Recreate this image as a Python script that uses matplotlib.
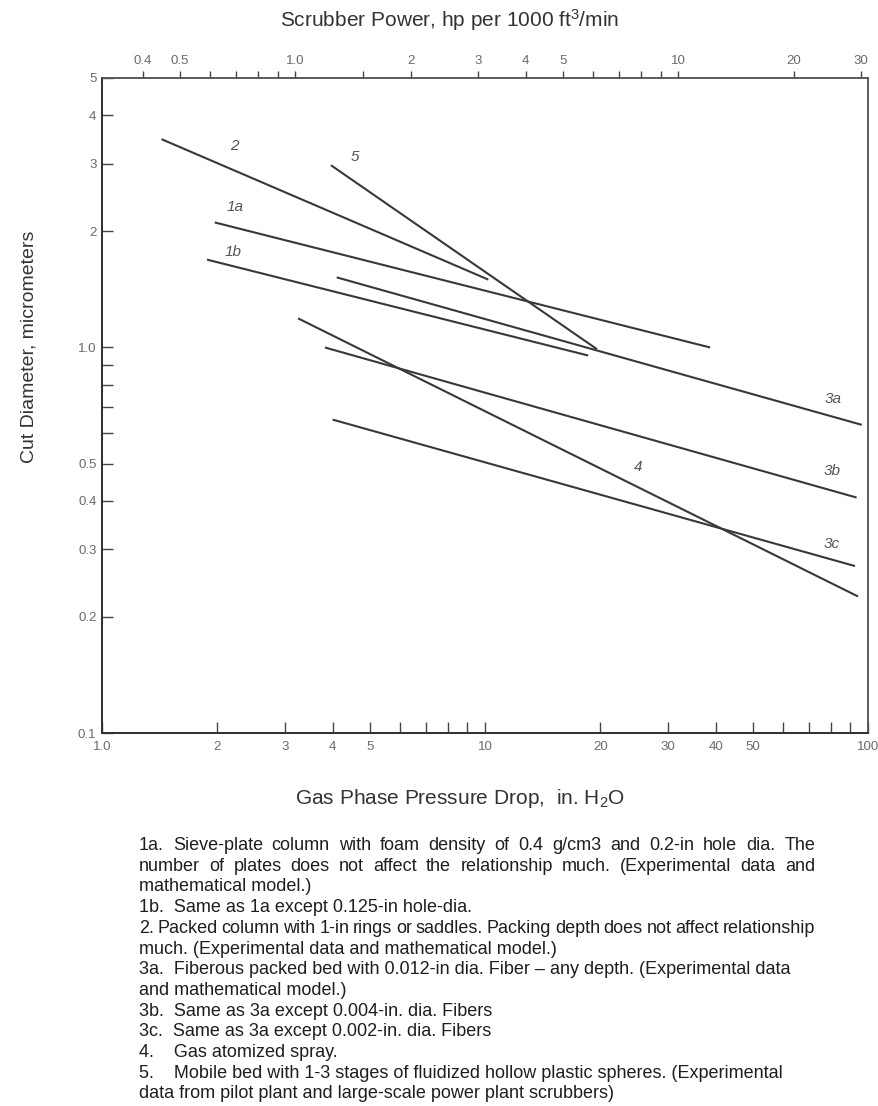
import numpy as np
import matplotlib.pyplot as plt
from matplotlib.ticker import FixedLocator, NullLocator, NullFormatter

plt.rcParams['font.family'] = ['Liberation Sans', 'DejaVu Sans']
plt.rcParams['mathtext.fontset'] = 'custom'
plt.rcParams['mathtext.rm'] = 'Liberation Sans'

# pressure drop (in. H2O) and cut diameter (um) at the two ends of each line
line_names = ['2', '5', '1a', '1b', '3a', '4', '3b', '3c']
dp_start = [1.43, 3.96, 1.97, 1.88, 4.10, 3.25, 3.82, 4.00]
dp_end = [10.2, 19.6, 38.7, 18.6, 96.3, 94.2, 93.4, 92.5]
d_start = [3.47, 2.97, 2.11, 1.69, 1.52, 1.19, 1.00, 0.65]
d_end = [1.50, 0.99, 1.00, 0.953, 0.63, 0.226, 0.408, 0.271]

# where the curve numbers sit
label_dp = [2.22, 4.58, 2.22, 2.20, 81.0, 25.1, 80.6, 80.6]
label_d = [3.33, 3.11, 2.32, 1.77, 0.736, 0.49, 0.478, 0.309]

# scrubber power per unit pressure drop (top scale)
power_factor = 0.313

x_ticks = [1, 2, 3, 4, 5, 6, 7, 8, 9, 10, 20, 30, 40, 50, 60, 70, 80, 90, 100]
x_labels = ['1.0', '2', '3', '4', '5', '', '', '', '', '10', '20', '30', '40', '50',
            '', '', '', '', '100']
y_ticks = [0.1, 0.2, 0.3, 0.4, 0.5, 0.6, 0.7, 0.8, 0.9, 1.0, 2, 3, 4, 5]
y_labels = ['0.1', '0.2', '0.3', '0.4', '0.5', '', '', '', '', '1.0', '2', '3', '4', '5']
top_ticks = [0.4, 0.5, 0.6, 0.7, 0.8, 0.9, 1.0, 1.5, 2, 3, 4, 5, 6, 7, 8, 9, 10, 20, 30]
top_labels = ['0.4', '0.5', '', '', '', '', '1.0', '', '2', '3', '4', '5', '', '', '', '',
              '10', '20', '30']

notes = [
    ("1a.  Sieve-plate column with foam density of 0.4 g/cm3 and 0.2-in  hole dia. The", True),
    ("number of  plates does not affect the relationship much. (Experimental data and", True),
    ("mathematical model.)", False),
    ("1b.  Same as 1a except 0.125-in hole-dia.", False),
    ("2.   Packed column with 1-in rings or saddles. Packing depth does not affect relationship", True),
    ("much. (Experimental data and mathematical model.)", False),
    ("3a.  Fiberous packed bed with 0.012-in dia. Fiber \u2013 any depth. (Experimental data", False),
    ("and mathematical model.)", False),
    ("3b.  Same as 3a except 0.004-in. dia. Fibers", False),
    ("3c.  Same as 3a except 0.002-in. dia. Fibers", False),
    ("4.    Gas atomized spray.", False),
    ("5.    Mobile bed with 1-3 stages of fluidized hollow plastic spheres. (Experimental", False),
    ("data from pilot plant and large-scale power plant scrubbers)", False),
]

W, H = 879, 1106
fig = plt.figure(figsize=(W / 100, H / 100), dpi=100)
ax = fig.add_axes([102 / W, 1 - 733 / H, (868 - 102) / W, (733 - 78) / H])

line_color = '#383838'
tick_color = '#6a6a6a'

for i in range(len(line_names)):
    ax.plot([dp_start[i], dp_end[i]], [d_start[i], d_end[i]], color=line_color,
            lw=1.5, solid_capstyle='butt')
    ax.text(label_dp[i], label_d[i], line_names[i], fontsize=11, style='italic',
            color='#555555', ha='center', va='center')

ax.set_xscale('log')
ax.set_yscale('log')
ax.set_xlim(1, 100)
ax.set_ylim(0.1, 5)

ax.xaxis.set_major_locator(FixedLocator(x_ticks))
ax.set_xticklabels(x_labels)
ax.yaxis.set_major_locator(FixedLocator(y_ticks))
ax.set_yticklabels(y_labels)
ax.xaxis.set_minor_locator(NullLocator())
ax.yaxis.set_minor_locator(NullLocator())
ax.tick_params(axis='x', direction='in', length=8, width=1, color='#444444',
               labelsize=9.5, labelcolor=tick_color, pad=6)
ax.tick_params(axis='y', direction='in', length=8, width=1, color='#444444',
               labelsize=9.5, labelcolor=tick_color, pad=4)

top = ax.twiny()
top.set_xscale('log')
top.set_xlim(power_factor * 1, power_factor * 100)
top.xaxis.set_major_locator(FixedLocator(top_ticks))
top.set_xticklabels(top_labels)
top.xaxis.set_minor_locator(NullLocator())
top.xaxis.set_minor_formatter(NullFormatter())
top.tick_params(axis='x', direction='out', length=5, width=1, color='#444444',
                labelsize=9.5, labelcolor=tick_color, pad=3)

for a in (ax, top):
    for side in ('left', 'bottom'):
        a.spines[side].set_color('#333333')
        a.spines[side].set_linewidth(1.4)
    for side in ('top', 'right'):
        a.spines[side].set_color('#555555')
        a.spines[side].set_linewidth(1.1)

fig.text(450 / W, 1 - 20 / H, 'Scrubber Power, hp per 1000 ft$\\mathregular{^3}$/min',
         ha='center', va='center', fontsize=15, color='#333333')
fig.text(460 / W, 1 - 798 / H, 'Gas Phase Pressure Drop,  in. H$\\mathregular{_2}$O',
         ha='center', va='center', fontsize=15, color='#333333')
fig.text(29 / W, 1 - 347 / H, 'Cut Diameter, micrometers', rotation=90,
         ha='center', va='center', fontsize=14, color='#333333')

# notes under the chart, the long ones spread to the full width like the original
renderer = fig.canvas.get_renderer()
note_kw = dict(fontsize=13, color='#1e1e1e', va='baseline')
x0, x1 = 139, 815
y = 850
for text, justify in notes:
    if justify:
        words = text.split()
        widths = []
        for w in words:
            t = fig.text(0, 0, w, **note_kw)
            widths.append(t.get_window_extent(renderer).width)
            t.remove()
        gap = (x1 - x0 - sum(widths)) / (len(words) - 1)
        x = x0
        for w, wd in zip(words, widths):
            fig.text(x / W, 1 - y / H, w, **note_kw)
            x += wd + gap
    else:
        fig.text(x0 / W, 1 - y / H, text, **note_kw)
    y += 20.7

fig.savefig('out.png', dpi=100)
